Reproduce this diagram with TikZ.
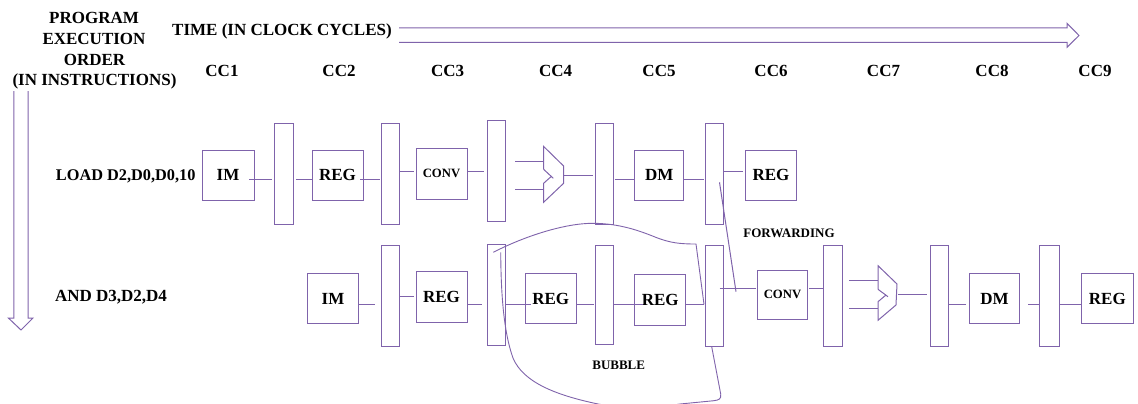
\documentclass[tikz,border=0pt]{standalone}
\usepackage{fontspec}
\setmainfont{Liberation Serif}
\definecolor{pl}{HTML}{7F63AB}
\tikzset{
  line/.style={draw=pl,line width=1pt},
  box/.style={line,rectangle,inner sep=0pt,outer sep=0pt,font=\bfseries\fontsize{17}{17}\selectfont},
  convbox/.style={box,font=\bfseries\fontsize{12.7}{13}\selectfont},
  latch/.style={line,rectangle,inner sep=0pt,outer sep=0pt},
  lbl/.style={inner sep=0pt,align=center,font=\bfseries\fontsize{17}{17}\selectfont},
  smalllbl/.style={inner sep=0pt,font=\bfseries\fontsize{13}{13}\selectfont},
}
\newcommand{\bx}[7][box]{\node[#1,minimum width=#5 pt,minimum height=#6 pt] (#2) at (#3,#4) {#7};}
\newcommand{\lt}[6][latch]{\node[#1,minimum width=#5 pt,minimum height=#6 pt] (#2) at (#3,#4) {};}
\newcommand{\wre}[5]{\draw[line,shorten <=#4 pt,shorten >=#5 pt] (#1.east |- 0,#3) -- (#2.west |- 0,#3);}
\begin{document}
\begin{tikzpicture}[x=1pt,y=-1pt]
\useasboundingbox (0,0) rectangle (1138,404);
% labels
\node[lbl] (pa) at (94,18) {PROGRAM};
\node[lbl] (pb) at (94,38.5) {EXECUTION};
\node[lbl] (pc) at (94.5,59.5) {ORDER};
\node[lbl] (pd) at (94.5,81) {(IN INSTRUCTIONS)};
\node[lbl] (time) at (282,31.7) {TIME (IN CLOCK CYCLES)};
\foreach \n/\x in {1/222,2/339,3/447.6,4/555.6,5/659,6/771,7/883.5,8/992,9/1095}
  \node[lbl] (cc\n) at (\x,70.7) {CC\n};
\node[lbl,font=\bfseries\fontsize{16.3}{17}\selectfont] (load) at (125.7,176.7) {LOAD D2,D0,D0,10};
\node[lbl] (and) at (111,296.7) {AND D3,D2,D4};
\node[smalllbl] (fwd) at (789,233.7) {FORWARDING};
\node[smalllbl] (bub) at (618.7,365.7) {BUBBLE};
% block arrows
\draw[line] (399,28) -- (1067,28) -- (1067,23.3) -- (1079,35.5) -- (1067,47.3) -- (1067,42.3) -- (399,42.3);
\draw[line] (13.8,91) -- (13.8,318) -- (8.4,318) -- (21,330) -- (33,318) -- (28,318) -- (28,91);
% bubble
\draw[line,line width=0.9pt] (493.3,252.3) .. controls (525,236) and (565,223.2) .. (593.3,223.3) .. controls (620,223.5) and (640,231) .. (655,237) .. controls (670,243) and (680,244) .. (696,244) -- (704,304.3);
\draw[line,line width=0.9pt] (500.7,252.3) .. controls (501,290) and (503,330) .. (513,358) .. controls (523,382) and (555,395) .. (598,404) .. controls (625,409) and (655,408) .. (680,404) -- (713,400.8) .. controls (719,400.2) and (721.5,399) .. (720.7,394) -- (711.7,346.7);
% row 1
\lt{a1}{284.2}{174.2}{18.5}{101}
\lt{a2}{390}{174.2}{18}{101}
\lt{a3}{496}{171}{18}{100.6}
\lt{a4}{604.5}{174.2}{18}{101}
\lt{a5}{714}{174.2}{18}{101}
\bx{im1}{228}{175.2}{52}{50.3}{IM}
\bx{reg1}{337.5}{175.2}{51}{50.3}{REG}
\bx[convbox]{conv1}{441.5}{173.7}{51}{50.7}{CONV}
\bx{dm1}{659.3}{175.2}{49.3}{50.3}{DM}
\bx{reg2}{771}{175.2}{51}{50.3}{REG}
\wre{im1}{a1}{179}{-5}{3}
\wre{a1}{reg1}{179}{3}{0}
\wre{reg1}{a2}{179}{-3}{1}
\wre{a2}{conv1}{171}{1}{2}
\wre{conv1}{a3}{171}{0}{3}
\coordinate (alu1in1) at (543.6,161.7);
\coordinate (alu1in2) at (543.6,189.7);
\coordinate (alu1out) at (563.6,175.7);
\draw[line,shorten <=10pt] (a3.east |- alu1in1) -- (alu1in1);
\draw[line,shorten <=10pt] (a3.east |- alu1in2) -- (alu1in2);
\draw[line] (543.6,169.3) -- (543.6,146.4) -- (563.6,166) -- (563.6,183.3) -- (543.6,202.3) -- (543.6,183.3) -- (551,176.7);
\draw[line] (543.6,169.3) -- (553.3,178.3);
\draw[line,shorten >=3pt] (alu1out) -- (a4.west |- alu1out);
\wre{a4}{dm1}{179}{1}{1}
\wre{dm1}{a5}{179}{0}{1.5}
\wre{a5}{reg2}{171}{1}{2.5}
% row 2
\lt{b2}{390}{296.2}{18}{101}
\lt{b3}{496}{294.5}{18}{101}
\lt{b4}{604.5}{295.3}{18}{99.3}
\lt[latch,fill=white]{b5}{714}{296.2}{18}{101}
\lt{b6}{833}{296.2}{18.6}{101}
\lt{b7}{939}{296.2}{18}{101}
\lt{b8}{1049}{296.2}{20}{101}
\bx{im2}{333}{298.6}{51}{50.7}{IM}
\bx{reg3}{441.5}{297}{51}{50.6}{REG}
\bx{reg4}{550.7}{298.6}{50.6}{50.7}{REG}
\bx{reg5}{660.2}{300.1}{51}{50.3}{REG}
\bx[convbox]{conv2}{782.5}{294.7}{50.5}{48.7}{CONV}
\bx{dm2}{994.5}{298.6}{50.5}{50.7}{DM}
\bx{reg6}{1107.3}{298.6}{51.4}{50.7}{REG}
\wre{im2}{b2}{304.3}{0}{6}
\wre{b2}{reg3}{296}{0}{2}
\wre{reg3}{b3}{304.3}{1}{5}
\draw[line] (b3.east |- 0,304.3) -- (531,304.3);
\wre{reg4}{b4}{304.3}{0}{2}
\draw[line] (b4.east |- 0,304.3) -- (642.7,304.3);
\wre{reg5}{b5}{304.3}{0}{1.5}
\draw[line] (719.5,288) -- (755.5,288);
\wre{conv2}{b6}{288}{1}{1}
\coordinate (alu2in1) at (878,280.7);
\coordinate (alu2in2) at (878,308.7);
\coordinate (alu2out) at (898.4,294.7);
\draw[line,shorten <=7pt] (b6.east |- alu2in1) -- (alu2in1);
\draw[line,shorten <=7pt] (b6.east |- alu2in2) -- (alu2in2);
\draw[line] (878,289.3) -- (878,265.7) -- (897,284) -- (896,305) -- (878,320.3) -- (878,301.7) -- (886,295);
\draw[line] (878,289.3) -- (888,296.7);
\draw[line,shorten >=3.5pt] (alu2out) -- (b7.west |- alu2out);
\wre{b7}{dm2}{304.3}{1}{3}
\draw[line] (1028,304.3) -- (b8.west |- 0,304.3);
\wre{b8}{reg6}{304.3}{0}{0.5}
% forwarding
\draw[line] (719.5,182.3) -- (736,291.7);
\end{tikzpicture}
\end{document}
